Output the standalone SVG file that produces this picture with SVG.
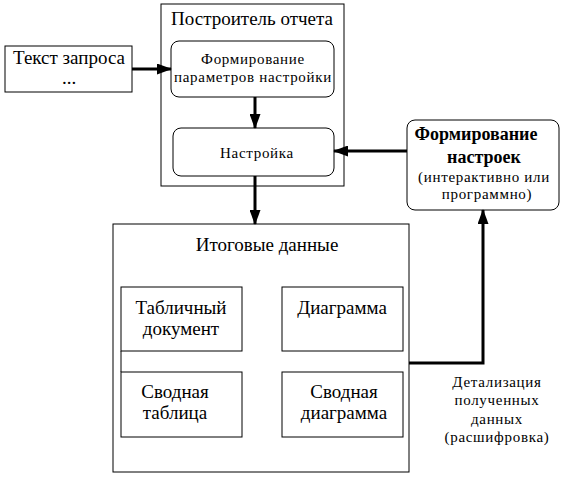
<svg xmlns="http://www.w3.org/2000/svg" width="566" height="479" viewBox="0 0 566 479">
<defs>
<style>
.box{fill:#fff;stroke:#000;stroke-width:1}
.t{font-family:'Liberation Serif','DejaVu Serif',serif;fill:#000;text-anchor:middle}
.big{font-size:19px}
.mid{font-size:19px}
.sm{font-size:15px;letter-spacing:0.7px}
.b{font-weight:bold;font-size:18px}
.c{fill:none;stroke:#000;stroke-width:3}
</style>
<marker id="ah" markerWidth="15" markerHeight="11" refX="14" refY="5.5" orient="auto" markerUnits="userSpaceOnUse">
<path d="M0,0 L15,5.5 L0,11 Z" fill="#000"/>
</marker>
</defs>
<rect width="566" height="479" fill="#fff"/>
<g id="query">
<rect class="box" x="5" y="46" width="127" height="46"/>
<text class="t big" x="69" y="64">Текст запроса</text>
<text class="t big" x="69" y="84">...</text>
</g>
<g id="builder">
<rect class="box" x="161" y="4" width="183" height="182"/>
<text class="t big" x="252" y="25">Построитель отчета</text>
</g>
<g id="params">
<rect class="box" x="171" y="41" width="163" height="56" rx="8"/>
<text class="t sm" x="253" y="64">Формирование</text>
<text class="t sm" x="253" y="82">параметров настройки</text>
</g>
<g id="settings">
<rect class="box" x="173" y="128" width="161" height="48" rx="8"/>
<text class="t sm" x="257" y="158">Настройка</text>
</g>
<g id="form">
<rect class="box" x="407" y="120" width="152" height="90" rx="8"/>
<text class="t b" x="476" y="140">Формирование</text>
<text class="t b" x="484" y="163">настроек</text>
<text class="t sm" x="484" y="182">(интерактивно или</text>
<text class="t sm" x="487" y="199">программно)</text>
</g>
<g id="results">
<rect class="box" x="113" y="224" width="296" height="248"/>
<text class="t mid" x="267" y="251">Итоговые данные</text>
</g>
<g id="table">
<rect class="box" x="121" y="287" width="121" height="64"/>
<text class="t mid" x="181" y="314">Табличный</text>
<text class="t mid" x="181" y="335">документ</text>
</g>
<g id="chart">
<rect class="box" x="282" y="287" width="121" height="64"/>
<text class="t mid" x="342" y="314">Диаграмма</text>
</g>
<g id="pivot">
<rect class="box" x="121" y="372" width="121" height="65"/>
<text class="t mid" x="175" y="398">Сводная</text>
<text class="t mid" x="175" y="419">таблица</text>
</g>
<g id="pivotchart">
<rect class="box" x="282" y="372" width="121" height="65"/>
<text class="t mid" x="344" y="398">Сводная</text>
<text class="t mid" x="344" y="419">диаграмма</text>
</g>
<g id="connectors">
<line x1="121" y1="351" x2="121" y2="372" stroke="#000" stroke-width="1"/>
<line class="c" x1="132" y1="69" x2="171" y2="69" marker-end="url(#ah)"/>
<line class="c" x1="255" y1="97" x2="255" y2="128" marker-end="url(#ah)"/>
<line class="c" x1="407" y1="151" x2="334" y2="151" marker-end="url(#ah)"/>
<line class="c" x1="255" y1="176" x2="255" y2="224" marker-end="url(#ah)"/>
<polyline class="c" points="409,363 483,363 483,210" marker-end="url(#ah)"/>
<text class="t sm" x="497" y="387">Детализация</text>
<text class="t sm" x="497" y="405">полученных</text>
<text class="t sm" x="497" y="424">данных</text>
<text class="t sm" x="497" y="442">(расшифровка)</text>
</g>
</svg>
